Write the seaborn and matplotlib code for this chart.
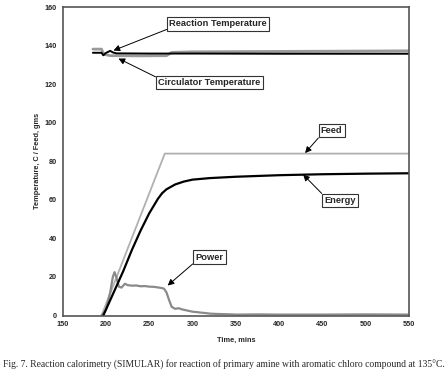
import matplotlib
matplotlib.use("Agg")
import matplotlib.pyplot as plt
import seaborn as sns
import pandas as pd

sns.set_theme(style="white")
plt.rcParams['font.family'] = ['Liberation Sans', 'DejaVu Sans']

# data
reaction_t = [185, 195, 197, 200, 205, 208, 212, 250, 300, 400, 550]
reaction_v = [136.3, 136.3, 135.0, 136.2, 137.3, 136.5, 136.0, 135.9, 135.9, 135.8, 135.8]

circ_t = [185, 195, 196, 198, 205, 240, 270, 276, 300, 400, 550]
circ_v = [138.2, 138.2, 137.0, 135.5, 134.8, 134.7, 134.8, 136.5, 136.8, 137.0, 137.3]

feed_t = [195, 268, 550]
feed_v = [0, 84, 84]

energy_t = [197, 200, 210, 220, 230, 240, 250, 260, 265, 270, 280, 290, 300,
            320, 350, 400, 450, 500, 550]
energy_v = [0, 3, 13, 23, 34, 44, 53, 60.5, 63.5, 65.5, 68, 69.5, 70.5,
            71.3, 72, 72.8, 73.3, 73.6, 73.8]

power_t = [195, 200, 205, 208, 210, 212, 215, 218, 222, 225, 230, 235, 240, 245,
           250, 255, 260, 264, 267, 270, 273, 276, 280, 284, 288, 292, 296, 300,
           305, 310, 315, 320, 330, 340, 350, 375, 400, 450, 500, 550]
power_v = [0, 3, 12, 20, 22.5, 20, 15, 14.5, 16.5, 15.8, 15.5, 15.6, 15.2, 15.3,
           15.0, 14.9, 14.6, 14.3, 14.0, 12, 8, 4.5, 3.5, 3.8, 3.2, 2.8, 2.4, 2.0,
           1.8, 1.5, 1.3, 1.0, 0.8, 0.7, 0.5, 0.6, 0.5, 0.5, 0.6, 0.5]

x_ticks = [150, 200, 250, 300, 350, 400, 450, 500, 550]
y_ticks = [0, 20, 40, 60, 80, 100, 120, 140, 160]

fig = plt.figure(figsize=(4.47, 3.73), dpi=100)
ax = fig.add_axes([0.140, 0.154, 0.775, 0.827])

sns.lineplot(x=feed_t, y=feed_v, ax=ax, color='#b0b0b0', lw=1.3)
sns.lineplot(x=power_t, y=power_v, ax=ax, color='#8a8a8a', lw=1.6)
sns.lineplot(x=energy_t, y=energy_v, ax=ax, color='black', lw=1.6)
sns.lineplot(x=circ_t, y=circ_v, ax=ax, color='#9a9a9a', lw=2.0)
sns.lineplot(x=reaction_t, y=reaction_v, ax=ax, color='black', lw=1.4)

ax.set_xlim(150, 550)
ax.set_ylim(0, 160)
ax.set_xticks(x_ticks)
ax.set_yticks(y_ticks)
ax.tick_params(labelsize=5.2, length=0, pad=4)
for lab in ax.get_xticklabels() + ax.get_yticklabels():
    lab.set_fontweight('bold')
ax.set_xlabel('Time, mins', fontsize=5.3, fontweight='bold', labelpad=6)
ax.set_ylabel('Temperature, C / Feed, gms', fontsize=5.3, fontweight='bold', labelpad=3)
for s in ax.spines.values():
    s.set_color('#555555')
    s.set_linewidth(1.2)

box = dict(boxstyle='square,pad=0.25', fc='white', ec='#333333', lw=0.8)
notes = [
    ('Reaction Temperature', (208.8, 137.5), (329.8, 151.3), (0, 0)),
    ('Circulator Temperature', (214.6, 133.3), (319.5, 120.8), (0, 1)),
    ('Feed', (430, 84.3), (460.7, 95.9), (0, 0)),
    ('Energy', (427.8, 73.1), (470.5, 59.6), (0, 1)),
    ('Power', (271.4, 15.6), (319.5, 30.3), (0, 0)),
]
for text, xy, xytext, rel in notes:
    ax.annotate(text, xy=xy, xytext=xytext, ha='center', va='center',
                fontsize=6.7, fontweight='bold', bbox=box,
                arrowprops=dict(arrowstyle='-|>,head_length=0.55,head_width=0.28',
                                color='black', lw=0.7, relpos=rel,
                                shrinkA=0, shrinkB=0))

fig.text(0.5, 1 - 365 / 373,
         'Fig. 7. Reaction calorimetry (SIMULAR) for reaction of primary amine with '
         'aromatic chloro compound at 135\u00b0C.',
         ha='center', va='center', fontsize=6.9, family='Liberation Serif')

fig.savefig('out.png', dpi=100)
